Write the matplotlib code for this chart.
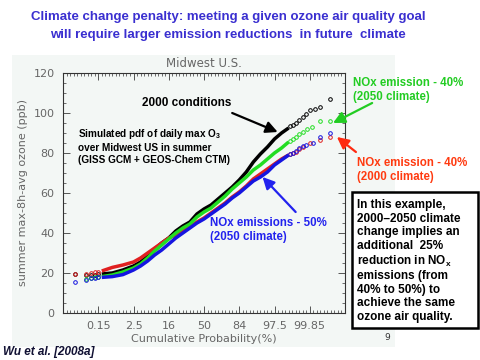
import matplotlib
matplotlib.use("Agg")
import matplotlib.pyplot as plt
from matplotlib.patches import Rectangle
from matplotlib.ticker import MultipleLocator

# Data: x in standard-normal units (probit of cumulative probability), y in ppb
prob_ticks = [-3, -2, -1, 0, 1, 2, 3]
prob_labels = ['0.15', '2.5', '16', '50', '84', '97.5', '99.85']

line_x = [-2.9, -2.6, -2.3, -2.0, -1.8, -1.6, -1.4, -1.2, -1.0, -0.8, -0.6, -0.4, -0.2,
          0.0, 0.2, 0.4, 0.6, 0.8, 1.0, 1.2, 1.4, 1.6, 1.8, 2.0, 2.2, 2.4]

black_line = [19.5, 20, 21.5, 23.5, 25.5, 28.5, 32, 35, 37.5, 41, 43.5, 45.5, 49.5,
              52, 54, 57, 60, 63, 66.5, 70.5, 75.5, 79.5, 83, 87, 90, 92.5]
green_line = [18.2, 19, 20.5, 22.5, 24.5, 27.5, 31, 34, 37, 40, 42.5, 44.5, 48,
              50.5, 52.5, 55.5, 58.5, 62, 65, 68, 71.5, 74, 77, 80, 82.5, 85.5]
red_line = [21, 22.8, 24, 25.5, 27.5, 30, 32.5, 35, 37.5, 39, 41, 43, 45.5,
            47.5, 50, 52.5, 55, 58, 60.5, 63.5, 67, 69.5, 72, 74.5, 77, 79]
blue_line = [17.8, 18.2, 19.2, 21.5, 23.5, 26, 29, 31.5, 34.5, 37.5, 40, 42.5, 45,
             47, 49.5, 52, 54.5, 57.5, 60, 63, 66, 68, 70.5, 74, 76.5, 79]

# sparse tail points drawn as open circles
black_tail_x = [-3.65, -3.34, -3.2, -3.1, -3.0, 2.45, 2.52, 2.6, 2.7, 2.81, 2.9, 3.0, 3.15, 3.29, 3.57]
black_tail_y = [19.5, 19.0, 19.0, 19.2, 19.4, 93.5, 94, 95, 96.5, 98, 99.5, 101.5, 102, 103, 107]
green_tail_x = [-3.34, -3.2, -3.1, -3.0, 2.45, 2.52, 2.6, 2.7, 2.81, 2.93, 3.05, 3.29, 3.57]
green_tail_y = [17, 17.5, 17.8, 18, 86, 87, 88, 89.3, 90.7, 92, 93, 96, 96]
red_tail_x = [-3.65, -3.34, -3.2, -3.1, -3.0, 2.45, 2.52, 2.6, 2.7, 2.81, 3.0, 3.29, 3.57]
red_tail_y = [19.5, 19.5, 20, 20.3, 20.6, 79.5, 80, 80.5, 81.8, 83, 84.8, 86.5, 87.8]
blue_tail_x = [-3.65, -3.34, -3.2, -3.1, -3.0, 2.45, 2.52, 2.6, 2.7, 2.81, 2.9, 3.1, 3.29, 3.57]
blue_tail_y = [15.7, 16.5, 17.5, 17.7, 17.8, 79.5, 80, 81, 82.3, 83.5, 84, 84.8, 88, 89.8]

W, H = 480, 360


def fx(px):
    return px / W


def fy(py):
    return 1 - py / H


fig = plt.figure(figsize=(4.8, 3.6), dpi=100)
fig.patch.set_facecolor('white')
fig.patches.append(Rectangle((fx(12), fy(347)), (395 - 12) / W, (347 - 55) / H,
                             transform=fig.transFigure, facecolor='#f3f7f5',
                             edgecolor='none', zorder=-5))

ax = fig.add_axes([fx(63), fy(313), (345 - 63) / W, (313 - 73) / H])
ax.set_facecolor('#f3f7f5')

series = [
    (black_line, black_tail_x, black_tail_y, 'black'),
    (red_line, red_tail_x, red_tail_y, '#e02020'),
    (green_line, green_tail_x, green_tail_y, '#22dd22'),
    (blue_line, blue_tail_x, blue_tail_y, '#1515e0'),
]
for yl, tx, ty, c in series:
    ax.plot(line_x, yl, '-', color=c, lw=2.5, solid_capstyle='butt')
    ax.plot(tx, ty, 'o', mfc='none', mec=c, ms=2.6, mew=0.7, ls='none')

ax.set_xlim(-4, 4)
ax.set_ylim(0, 120)
ax.set_xticks(prob_ticks)
ax.set_xticklabels(prob_labels)
ax.xaxis.set_minor_locator(MultipleLocator(0.1))
ax.yaxis.set_major_locator(MultipleLocator(20))
ax.yaxis.set_minor_locator(MultipleLocator(5))
ax.tick_params(which='both', direction='in', top=True, right=True,
               colors='#555555', labelsize=8, labelcolor='#666666')
ax.tick_params(which='major', length=5, width=0.7, pad=6)
ax.tick_params(which='minor', length=2.5, width=0.6)
for s in ax.spines.values():
    s.set_color('#333333')
    s.set_linewidth(0.8)

ax.set_title('Midwest U.S.', fontsize=8.5, color='#666666', pad=4)
ax.set_xlabel('Cumulative Probability(%)', fontsize=8, color='#666666', labelpad=2)
ax.set_ylabel('summer max-8h-avg ozone (ppb)', fontsize=8, color='#666666', labelpad=4)

# slide title
title_kw = dict(ha='center', va='center', fontsize=9.5, fontweight='bold',
                color='#3a2fd0', family='Liberation Sans')
fig.text(fx(228), fy(17), 'Climate change penalty: meeting a given ozone air quality goal', **title_kw)
fig.text(fx(228), fy(35), 'will require larger emission reductions  in future  climate', **title_kw)

bold = dict(fontweight='bold', family='Liberation Sans')

fig.text(fx(142), fy(103), '2000 conditions', ha='left', va='center',
         fontsize=8.5, color='black', **bold)
fig.text(fx(78), fy(146), 'Simulated pdf of daily max O$_\\mathregular{3}$\nover Midwest US in summer\n(GISS GCM + GEOS-Chem CTM)',
         ha='left', va='center', fontsize=7.2, color='black', linespacing=1.25, **bold)
fig.text(fx(353), fy(90), 'NOx emission - 40%\n(2050 climate)', ha='left', va='center',
         fontsize=8.3, color='#22cc22', linespacing=1.2, **bold)
fig.text(fx(357), fy(170), 'NOx emission - 40%\n(2000 climate)', ha='left', va='center',
         fontsize=8.3, color='#ff3a10', linespacing=1.2, **bold)
fig.text(fx(210), fy(230), 'NOx emissions - 50%\n(2050 climate)', ha='left', va='center',
         fontsize=8.3, color='#2222ee', linespacing=1.2, **bold)

arrows = [((0.8, 100), (2.09, 90.5), 'black'),
          ((4.77, 105), (3.66, 95), '#22cc22'),
          ((4.31, 80.5), (3.77, 88), '#ff2a10'),
          ((2.6, 50.5), (1.66, 68), '#2222ee')]
for tail, head, c in arrows:
    ax.annotate('', xy=head, xytext=tail, annotation_clip=False,
                arrowprops=dict(arrowstyle='-|>,head_width=0.35,head_length=0.7',
                                color=c, lw=1.6, shrinkA=0, shrinkB=0))

# note box
fig.patches.append(Rectangle((fx(352), fy(328)), (478 - 352) / W, (328 - 192) / H,
                             transform=fig.transFigure, facecolor='white',
                             edgecolor='black', lw=1.8, zorder=1))
note = ('In this example,\n2000\u20132050 climate\nchange implies an\nadditional  25%\n'
        'reduction in NO$_\\mathregular{x}$\nemissions (from\n40% to 50%) to\n'
        'achieve the same\nozone air quality.')
fig.text(fx(357), fy(261), note, ha='left', va='center', fontsize=8.5,
         color='black', linespacing=1.17, zorder=2, **bold)

fig.text(fx(387), fy(337), '9', ha='center', va='center', fontsize=6.5, color='#333333')
fig.text(fx(3), fy(352), 'Wu et al. [2008a]', ha='left', va='center', fontsize=8.5,
         color='#111133', fontweight='bold', fontstyle='italic', family='Liberation Sans')

fig.savefig('out.png', dpi=100)
